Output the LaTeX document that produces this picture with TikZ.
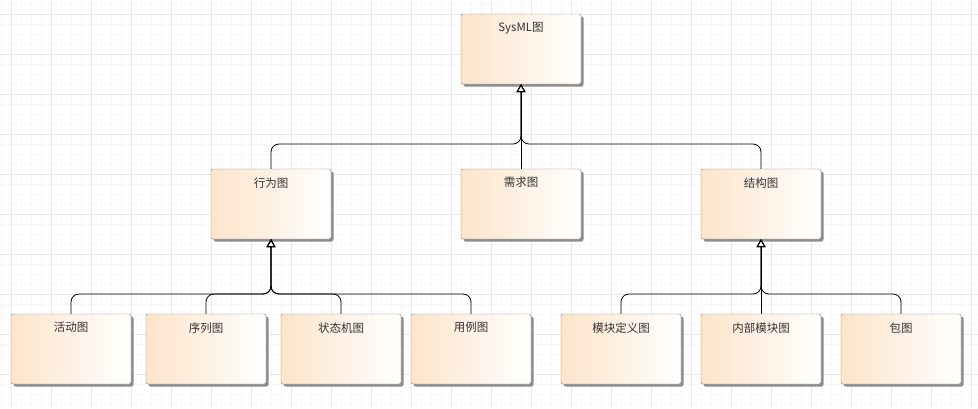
\documentclass[tikz,border=0pt]{standalone}
\usepackage{fontspec}
\setmainfont{Noto Sans CJK SC}
\usetikzlibrary{arrows.meta,shadows}
\definecolor{peach}{RGB}{253,228,202}
\definecolor{boxline}{RGB}{128,128,128}
\tikzset{
  diag/.style={draw=boxline,rounded corners=2pt,minimum width=120pt,minimum height=70pt,
    left color=peach,right color=white,
    drop shadow={shadow xshift=2.5pt,shadow yshift=-2.5pt,fill=black!45,opacity=1}},
  diagtext/.style={anchor=north,yshift=-5pt,font=\fontsize{11.5}{13}\selectfont,text=black!80},
  gen/.style={draw=black,line width=0.8pt,rounded corners=8pt,-{Triangle[open,width=9pt,length=8pt]}}
}
\begin{document}
\begin{tikzpicture}[x=1pt,y=-1pt]
      \useasboundingbox (0,0) rectangle (978,408);
      % grid
      \foreach \x in {1,11,...,971} \draw[black!3] (\x,0) -- (\x,408);
      \foreach \y in {4,14,...,404} \draw[black!3] (0,\y) -- (978,\y);
      \foreach \x in {11,51,...,971} \draw[black!9] (\x,0) -- (\x,408);
      \foreach \y in {14,54,...,404} \draw[black!9] (0,\y) -- (978,\y);
      % top and middle
      \node[diag,label={[diagtext]north:SysML图}] (sysml) at (521,49) {};
      \node[diag,label={[diagtext]north:行为图}] (behav) at (271,204) {};
      \node[diag,label={[diagtext]north:需求图}] (req) at (521,204) {};
      \node[diag,label={[diagtext]north:结构图}] (struct) at (761,204) {};
      % bottom
      \node[diag,label={[diagtext]north:活动图}] (act) at (71,349) {};
      \node[diag,label={[diagtext]north:序列图}] (seq) at (206,349) {};
      \node[diag,label={[diagtext]north:状态机图}] (stm) at (341,349) {};
      \node[diag,label={[diagtext]north:用例图}] (uc) at (471,349) {};
      \node[diag,label={[diagtext]north:模块定义图}] (bdd) at (621,349) {};
      \node[diag,label={[diagtext]north:内部模块图}] (ibd) at (761,349) {};
      \node[diag,label={[diagtext]north:包图}] (pkg) at (901,349) {};
      \coordinate (j0) at (521,144);
      \coordinate (j1) at (271,294);
      \coordinate (j2) at (761,294);
      % generalizations
      \draw[gen] (behav.north) |- (j0) -- (sysml.south);
      \draw[gen] (struct.north) |- (j0) -- (sysml.south);
      \draw[gen] (req.north) -- (sysml.south);
      \draw[gen] (act.north) |- (j1) -- (behav.south);
      \draw[gen] (seq.north) |- (j1) -- (behav.south);
      \draw[gen] (stm.north) |- (j1) -- (behav.south);
      \draw[gen] (uc.north) |- (j1) -- (behav.south);
      \draw[gen] (bdd.north) |- (j2) -- (struct.south);
      \draw[gen] (ibd.north) -- (struct.south);
      \draw[gen] (pkg.north) |- (j2) -- (struct.south);
\end{tikzpicture}
\end{document}
